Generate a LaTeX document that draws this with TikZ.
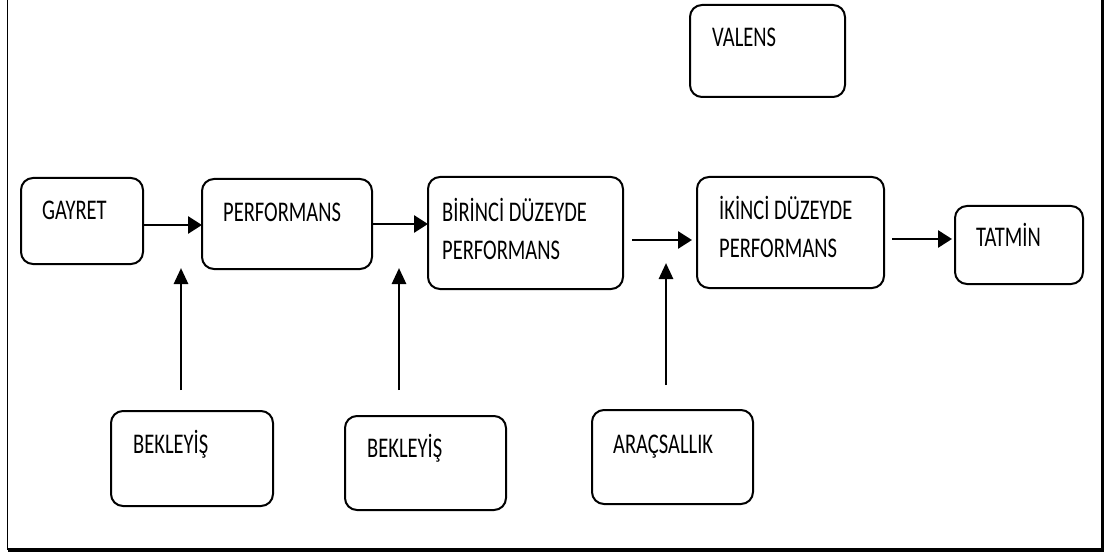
\documentclass[tikz,border=0pt]{standalone}
\usepackage{fontspec}
\setmainfont{Carlito}[FakeStretch=0.72]
\usetikzlibrary{arrows.meta,calc}

\tikzset{
  box/.style={draw, line width=2pt, rounded corners=12pt, outer sep=0pt, inner sep=0pt},
  lbl/.style={anchor=base west, inner sep=0pt, font=\fontsize{28.5pt}{37pt}\selectfont},
  flow/.style={line width=2.8pt, -{Triangle[length=14pt,width=17pt]}},
  lift/.style={line width=2.8pt, -{Triangle[length=16pt,width=14pt]}}
}

\begin{document}
\begin{tikzpicture}[x=1pt,y=-1pt]
  \useasboundingbox (0,0) rectangle (1107,553);

  % page frame (open at the top)
  \draw[line width=1.5pt] (7.5,0) -- (7.5,550);
  \draw[line width=3.7pt] (7.5,550) -- (1102.5,550) -- (1102.5,0);

  % boxes of the main chain
  \node[box, minimum width=122pt, minimum height=86pt]  (gayret) at (82,221)    {};
  \node[box, minimum width=170pt, minimum height=90pt]  (perf)   at (287,224)   {};
  \node[box, minimum width=195pt, minimum height=112pt] (bir)    at (525.5,233) {};
  \node[box, minimum width=187pt, minimum height=111pt] (iki)    at (790.5,232.5) {};
  \node[box, minimum width=128pt, minimum height=78pt]  (tatmin) at (1019,245)  {};
  \node[box, minimum width=155pt, minimum height=92pt]  (valens) at (767.5,51)  {};

  % boxes of the lower row
  \node[box, minimum width=162pt, minimum height=95pt]  (bek1)   at (192,458.5) {};
  \node[box, minimum width=161pt, minimum height=94pt]  (bek2)   at (425.5,463) {};
  \node[box, minimum width=161pt, minimum height=94pt]  (arac)   at (672.5,457) {};

  % texts
  \node[lbl] at ($(gayret.north west)+(21,42)$) {GAYRET};
  \node[lbl] at ($(perf.north west)+(21,43)$)   {PERFORMANS};
  \node[lbl] at ($(bir.north west)+(14,45)$)    {BİRİNCİ DÜZEYDE};
  \node[lbl] at ($(bir.north west)+(14,82)$)    {PERFORMANS};
  \node[lbl] at ($(iki.north west)+(22,43)$)    {İKİNCİ DÜZEYDE};
  \node[lbl] at ($(iki.north west)+(22,80)$)    {PERFORMANS};
  \node[lbl] at ($(tatmin.north west)+(21,41)$) {TATMİN};
  \node[lbl] at ($(valens.north west)+(22,42)$) {VALENS};
  \node[lbl] at ($(bek1.north west)+(22,42)$)   {BEKLEYİŞ};
  \node[lbl] at ($(bek2.north west)+(22,41)$)   {BEKLEYİŞ};
  \node[lbl] at ($(arac.north west)+(21,43)$)   {ARAÇSALLIK};

  % horizontal flow arrows
  \draw[flow] ([yshift=-4pt]gayret.east) -- ([yshift=-4pt]gayret.east -| perf.west);
  \draw[flow] (perf.east) -- (perf.east -| bir.west);
  \draw[flow, shorten <=9pt, shorten >=5pt] (bir.east |- 0,240) -- (iki.west |- 0,240);
  \draw[flow, shorten <=8pt, shorten >=3pt] (iki.east |- 0,239) -- (tatmin.west |- 0,239);

  % upward arrows from the lower row
  \coordinate (u1s) at (181,390); \coordinate (u1e) at (181,268);
  \coordinate (u2s) at (399,390); \coordinate (u2e) at (399,268);
  \coordinate (u3s) at (666,385); \coordinate (u3e) at (666,263);
  \draw[lift] (u1s) -- (u1e);
  \draw[lift] (u2s) -- (u2e);
  \draw[lift] (u3s) -- (u3e);
\end{tikzpicture}
\end{document}
